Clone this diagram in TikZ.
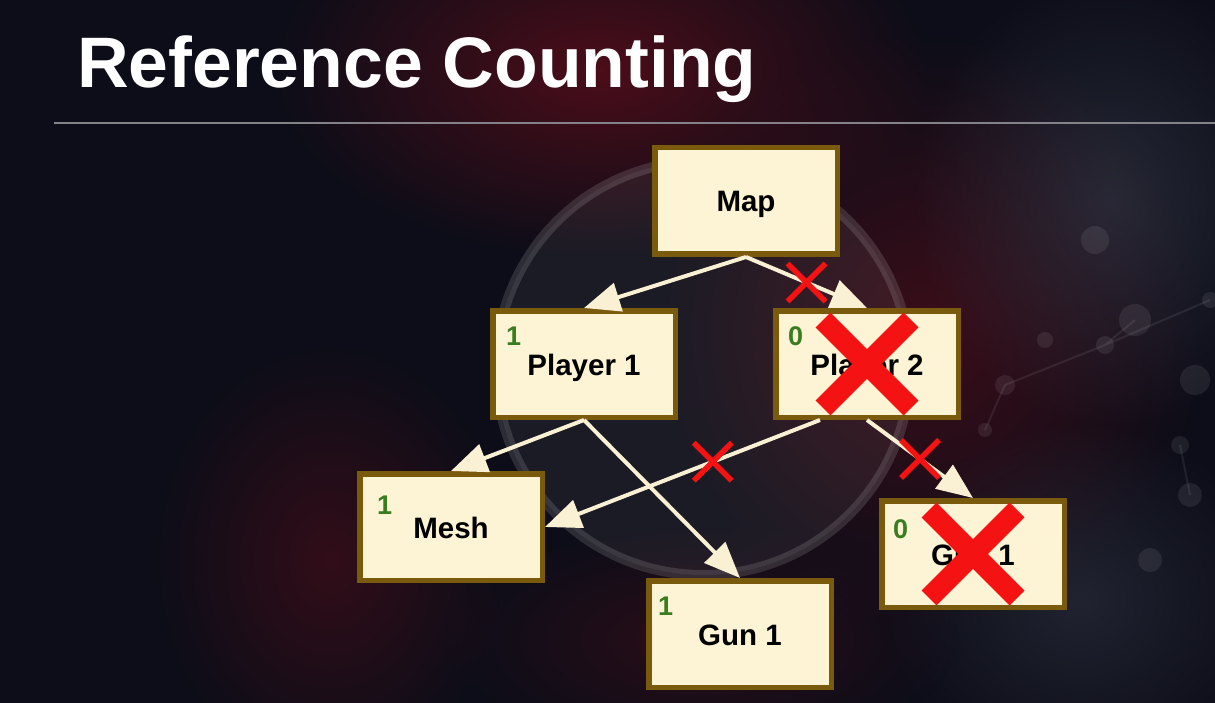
\documentclass[tikz,border=0pt]{standalone}
\usepackage{fontspec}
\setmainfont{Liberation Sans}
\usetikzlibrary{arrows.meta,fadings}

\definecolor{bgdark}{RGB}{12,13,24}
\definecolor{glowred}{RGB}{96,14,26}
\definecolor{slate}{RGB}{58,62,78}
\definecolor{boxfill}{RGB}{253,243,213}
\definecolor{boxedge}{RGB}{122,90,12}
\definecolor{countgreen}{RGB}{58,125,30}
\definecolor{crossred}{RGB}{245,18,18}
\definecolor{arrowcream}{RGB}{250,240,212}
\definecolor{rulegray}{RGB}{130,130,136}

\tikzfading[name=softglow, inner color=transparent!0, outer color=transparent!100]

\tikzset{
  objbox/.style={draw=boxedge, fill=boxfill, line width=5.5pt,
    minimum width=182.5pt, minimum height=106.5pt, inner sep=0pt},
  objname/.style={font=\fontsize{29.5}{29.5}\selectfont\bfseries, text=black,
    inner sep=0pt, anchor=base},
  refcount/.style={font=\fontsize{27}{27}\selectfont\bfseries, text=countgreen,
    inner sep=0pt, anchor=base west},
  link/.style={draw=arrowcream, line width=4pt,
    -{Triangle[length=36pt,width=29pt]}},
  pics/cutmark/.style={code={
    \draw[crossred, line width=5.5pt] (-19,-19) -- (19,19) (-19,19) -- (19,-19);}},
  pics/bigcut/.style={code={
    \draw[crossred, line width=21pt] (-44,-44) -- (44,44) (-44,44) -- (44,-44);}},
  glow/.style={path fading=softglow}
}

\begin{document}
\begin{tikzpicture}[x=1pt,y=-1pt]
  % slide background
  \fill[bgdark] (0,0) rectangle (1215,703);
  \useasboundingbox (0,0) rectangle (1215,703);
  \fill[glowred, glow, opacity=0.75] (600,70) ellipse (330 and 190);
  \fill[glowred, glow, opacity=0.45] (330,560) ellipse (180 and 220);
  \fill[glowred, glow, opacity=0.55] (930,330) ellipse (280 and 300);
  \fill[slate, glow, opacity=0.55] (1110,200) ellipse (200 and 230);
  \fill[slate, glow, opacity=0.45] (1080,600) ellipse (200 and 180);
  \fill[glowred, glow, opacity=0.35] (700,640) ellipse (260 and 120);
  % faint logo ring
  \fill[white, opacity=0.06] (703,368) circle (207);
  \draw[white, opacity=0.13, line width=10pt] (703,368) circle (207);
  % faint molecule network on the right
  \begin{scope}[white, opacity=0.08]
    \draw[line width=2pt] (1005,385) -- (1105,345) -- (1210,300)
      (1105,345) -- (1135,320) (1005,385) -- (985,430) (1180,445) -- (1190,495);
    \fill (1005,385) circle (10) (1105,345) circle (9) (1135,320) circle (16)
      (1210,300) circle (8) (985,430) circle (7) (1180,445) circle (9)
      (1190,495) circle (12) (1095,240) circle (14) (1045,340) circle (8)
      (1195,380) circle (15) (1150,560) circle (12);
  \end{scope}

  % title and rule
  \node[font=\fontsize{71.5}{71.5}\selectfont\bfseries, text=white,
    inner sep=0pt, anchor=base west] (title) at (77,88) {Reference Counting};
  \coordinate (ruleL) at (54,123);
  \coordinate (ruleR) at (1215,123);
  \draw[rulegray, line width=1.5pt] (ruleL) -- (ruleR);

  % objects
  \node[objbox] (map)  at (746,201) {};
  \node[objbox] (p1)   at (584,364) {};
  \node[objbox] (p2)   at (867,364) {};
  \node[objbox] (mesh) at (451,527) {};
  \node[objbox] (gunA) at (740,634) {};
  \node[objbox] (gunB) at (973,554) {};

  \node[objname] (mapT)  at ([yshift=-11pt]map.center)  {Map};
  \node[objname] (p1T)   at ([yshift=-11pt]p1.center)   {Player 1};
  \node[objname] (p2T)   at ([yshift=-11pt]p2.center)   {Player 2};
  \node[objname] (meshT) at ([yshift=-11pt]mesh.center) {Mesh};
  \node[objname] (gunAT) at ([yshift=-11pt]gunA.center) {Gun 1};
  \node[objname] (gunBT) at ([yshift=-11pt]gunB.center) {Gun 1};

  % reference counts
  \node[refcount] (p1C)   at ([shift={(16,37)}]p1.north west)   {1};
  \node[refcount] (p2C)   at ([shift={(15,37)}]p2.north west)   {0};
  \node[refcount] (meshC) at ([shift={(20,43)}]mesh.north west) {1};
  \node[refcount] (gunAC) at ([shift={(12,37)}]gunA.north west) {1};
  \node[refcount] (gunBC) at ([shift={(14,40)}]gunB.north west) {0};

  % references
  \draw[link] (map.south) -- (p1.north);
  \draw[link] (map.south) -- coordinate[pos=0.5] (cutA) (p2.north);
  \draw[link] (p1.south) -- (mesh.north);
  \draw[link] (p1.south) -- (gunA.north);
  \draw[link] ([xshift=-47pt]p2.south) -- coordinate[pos=0.39] (cutB) (mesh.east);
  \draw[link] (p2.south) -- coordinate[pos=0.5] (cutC) (gunB.north);

  % released references and freed objects
  \pic at (cutA) {cutmark};
  \pic at (cutB) {cutmark};
  \pic at (cutC) {cutmark};
  \pic at (p2.center) {bigcut};
  \pic at (gunB.center) {bigcut};
\end{tikzpicture}
\end{document}
